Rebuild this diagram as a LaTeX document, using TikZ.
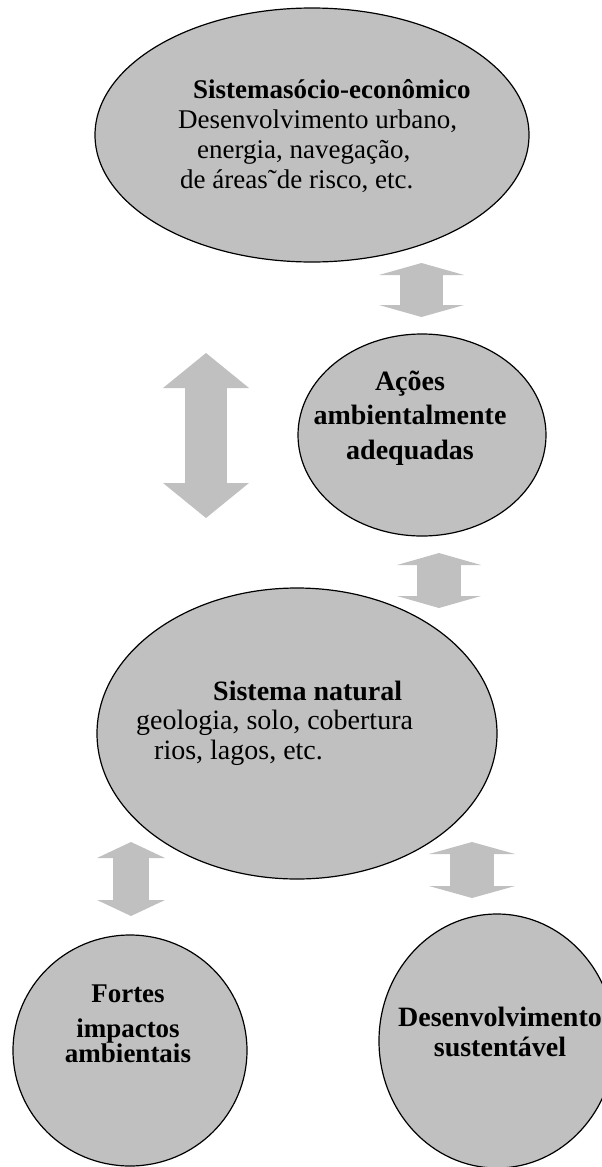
\documentclass[tikz,border=0pt]{standalone}
\usepackage{fontspec}
\setmainfont{Liberation Serif}
\usetikzlibrary{shapes.geometric,arrows.meta,positioning}
\definecolor{cellgray}{RGB}{192,192,192}

\begin{document}
\begin{tikzpicture}
         [x=1pt, y=-1pt,
          blob/.style={ellipse,draw,line width=1.2pt,fill=cellgray,inner sep=0pt},
          txt/.style={inner sep=0pt},
          dblarrow/.style n args={3}{draw=cellgray,line width=#1,
             arrows={Triangle[width=#2,length=#3,line width=0pt]-Triangle[width=#2,length=#3,line width=0pt]}}]
         \useasboundingbox (0,0) rectangle (602,1167);

         \node[blob, minimum width=434pt, minimum height=254pt] (socio) at (312,135) {};
         \node[blob, minimum width=248pt, minimum height=202pt] (acoes) at (422,435) {};
         \node[blob, minimum width=400pt, minimum height=291pt] (natural) at (297,733.5) {};
         \node[blob, minimum width=234pt, minimum height=231pt] (fortes) at (130,1050.5) {};
         \node[blob, minimum width=236pt, minimum height=254pt] (desenv) at (497,1041) {};

         \node[txt, anchor=west, align=left, font=\fontsize{27}{30}\selectfont] (sociotxt) at (178,136.5)
            {\hspace*{15pt}\textbf{Sistemasócio-econômico}\\ Desenvolvimento urbano,\\
             \hspace*{19pt}energia, navegação,\\ \hspace*{2pt}de áreas˜de risco, etc.};
         \node[txt, align=center, font=\fontsize{28}{34.5}\selectfont\bfseries] (acoestxt) at (410,418)
            {Ações\\ ambientalmente\\ adequadas};
         \node[txt, anchor=west, align=left, font=\fontsize{28}{29.5}\selectfont] (naturaltxt) at (136,723)
            {\hspace*{77pt}\textbf{Sistema natural}\\ geologia, solo, cobertura\\ \hspace*{18pt}rios, lagos, etc.};
         \node[txt, align=center, font=\fontsize{27}{25}\selectfont\bfseries] (fortestxt) at (128,1024)
            {Fortes\\[10pt] impactos\\ ambientais};
         \node[txt, align=center, font=\fontsize{28}{30}\selectfont\bfseries] (desenvtxt) at (500,1032)
            {Desenvolvimento\\ sustentável};

         % arrow ends
         \coordinate (a1) at (421.5,263);  \coordinate (b1) at (421.5,317);
         \coordinate (a2) at (439,553);    \coordinate (b2) at (439,608);
         \coordinate (a3) at (206,353);    \coordinate (b3) at (206,518);
         \coordinate (a4) at (131,842);    \coordinate (b4) at (131,916);
         \coordinate (a5) at (472,842);    \coordinate (b5) at (472,898);

         \draw[dblarrow={43pt}{85pt}{12pt}] (a1) -- (b1);
         \draw[dblarrow={44pt}{84pt}{12pt}] (a2) -- (b2);
         \draw[dblarrow={42pt}{86pt}{35pt}] (a3) -- (b3);
         \draw[dblarrow={36pt}{68pt}{16pt}] (a4) -- (b4);
         \draw[dblarrow={44pt}{86pt}{12pt}] (a5) -- (b5);
      \end{tikzpicture}
\end{document}
